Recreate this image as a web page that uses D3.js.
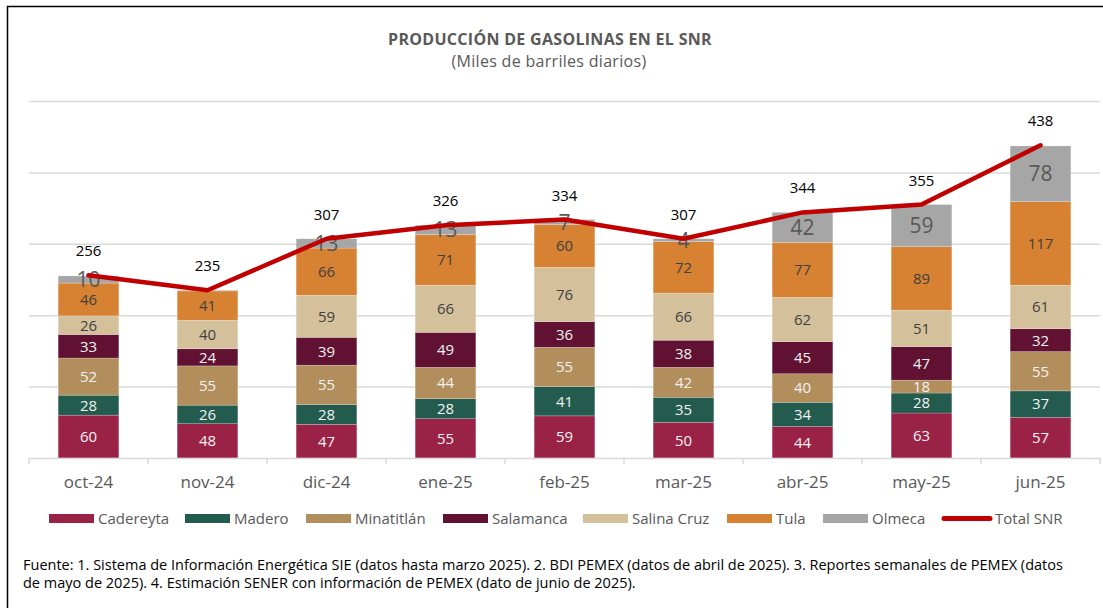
<!DOCTYPE html>
<meta charset="utf-8">
<style>
body { margin: 0; background: #fff; }
text { font-family: "Open Sans", sans-serif; }
.grid line { stroke: #d9d9d9; stroke-width: 1.5; }
.grid path { stroke-width: 0; }
</style>
<body>
<script src="https://cdn.jsdelivr.net/npm/d3@7"></script>
<script>

// ---- data ----
var months = ["oct-24","nov-24","dic-24","ene-25","feb-25","mar-25","abr-25","may-25","jun-25"];
var refinerias = ["Cadereyta","Madero","Minatitlán","Salamanca","Salina Cruz","Tula","Olmeca"];
var cadereyta  = [60, 48, 47, 55, 59, 50, 44, 63, 57];
var madero     = [28, 26, 28, 28, 41, 35, 34, 28, 37];
var minatitlan = [52, 55, 55, 44, 55, 42, 40, 18, 55];
var salamanca  = [33, 24, 39, 49, 36, 38, 45, 47, 32];
var salinaCruz = [26, 40, 59, 66, 76, 66, 62, 51, 61];
var tula       = [46, 41, 66, 71, 60, 72, 77, 89, 117];
var olmeca     = [10, 1, 13, 13, 7, 4, 42, 59, 78];
var totalSNR   = [256, 235, 307, 326, 334, 307, 344, 355, 438];
var yTicks     = [0, 100, 200, 300, 400, 500];

var series = [cadereyta, madero, minatitlan, salamanca, salinaCruz, tula, olmeca];
var colors = ["#9b2247","#235b4e","#b38e5d","#611232","#d4c19c","#d68232","#a6a6a6"];
var labelColors = ["#f2f2f2","#f2f2f2","#f2f2f2","#f2f2f2","#404040","#404040","#404040"];

// table for d3.stack
var table = months.map(function(m, i) {
  var row = {month: m};
  refinerias.forEach(function(r, k) { row[r] = series[k][i]; });
  return row;
});

// ---- setup ----
var W = 1103, H = 608;
var margin = {left: 29, right: 3, top: 101, bottom: 150};
var width = W - margin.left - margin.right,
    height = H - margin.top - margin.bottom;

var svg = d3.select("body").append("svg")
    .attr("width", W)
    .attr("height", H);

// outer frame
svg.append("rect")
    .attr("x", 7.5).attr("y", 6.5)
    .attr("width", 1110).attr("height", 620)
    .attr("fill", "none")
    .attr("stroke", "#000")
    .attr("stroke-width", 1.5);

// titles
svg.append("text")
    .attr("x", 550).attr("y", 45)
    .attr("text-anchor", "middle")
    .attr("font-size", 16)
    .attr("font-weight", "bold")
    .attr("letter-spacing", 0.3)
    .attr("fill", "#595959")
    .text("PRODUCCIÓN DE GASOLINAS  EN EL SNR");

svg.append("text")
    .attr("x", 549).attr("y", 67)
    .attr("text-anchor", "middle")
    .attr("font-size", 16)
    .attr("letter-spacing", 0.3)
    .attr("fill", "#595959")
    .text("(Miles de barriles diarios)");

var g = svg.append("g")
    .attr("transform", "translate(" + margin.left + "," + margin.top + ")");

var x = d3.scaleBand()
    .domain(months)
    .range([0, width])
    .paddingInner(0.49)
    .paddingOuter(0.245);

var y = d3.scaleLinear()
    .domain([0, 500])
    .range([height, 0]);

// gridlines
g.append("g")
    .attr("class", "grid")
    .call(d3.axisLeft(y).tickValues(yTicks.slice(1)).tickSize(-width).tickFormat(""));

// bars
var stack = d3.stack().keys(refinerias)(table);

var layer = g.selectAll(".layer")
    .data(stack)
  .enter().append("g")
    .attr("class", "layer")
    .attr("fill", function(d, i) { return colors[i]; });

layer.selectAll("rect")
    .data(function(d) { return d; })
  .enter().append("rect")
    .attr("x", function(d) { return x(d.data.month); })
    .attr("y", function(d) { return y(d[1]); })
    .attr("width", x.bandwidth())
    .attr("height", function(d) { return y(d[0]) - y(d[1]); })
    .attr("stroke", "#fff")
    .attr("stroke-opacity", 0.35)
    .attr("stroke-width", 0.6);

// segment labels
layer.each(function(s, k) {
  d3.select(this).selectAll("text")
      .data(s.filter(function(d) { return d[1] - d[0] > 1; }))
    .enter().append("text")
      .attr("x", function(d) { return x(d.data.month) + x.bandwidth() / 2; })
      .attr("y", function(d) { return y((d[0] + d[1]) / 2); })
      .attr("dy", "0.36em")
      .attr("text-anchor", "middle")
      .attr("font-size", k === 6 ? 21 : 15)
      .attr("fill", k === 6 ? "#595959" : labelColors[k])
      .text(function(d) { return d[1] - d[0]; });
});

// x axis
var xAxis = g.append("g")
    .attr("transform", "translate(0," + height + ")")
    .call(d3.axisBottom(x).tickSize(0).tickPadding(18));
xAxis.select(".domain").attr("stroke", "#d9d9d9").attr("stroke-width", 1.5);
xAxis.selectAll("text").attr("font-size", 17).attr("fill", "#595959")
    .attr("font-family", "'Open Sans', sans-serif");

// tick marks between categories
var step = x.step();
g.append("g").selectAll("line")
    .data(d3.range(months.length + 1))
  .enter().append("line")
    .attr("x1", function(i) { return i * step; })
    .attr("x2", function(i) { return i * step; })
    .attr("y1", height)
    .attr("y2", height + 6)
    .attr("stroke", "#d9d9d9")
    .attr("stroke-width", 1.5);

// total line
var line = d3.line()
    .x(function(d, i) { return x(months[i]) + x.bandwidth() / 2; })
    .y(function(d) { return y(d); });

g.append("path")
    .datum(totalSNR)
    .attr("fill", "none")
    .attr("stroke", "#c00000")
    .attr("stroke-width", 4.5)
    .attr("stroke-linejoin", "round")
    .attr("stroke-linecap", "round")
    .attr("d", line);

g.selectAll(".tot")
    .data(totalSNR)
  .enter().append("text")
    .attr("class", "tot")
    .attr("x", function(d, i) { return x(months[i]) + x.bandwidth() / 2; })
    .attr("y", function(d) { return y(d) - 19; })
    .attr("text-anchor", "middle")
    .attr("font-size", 15)
    .attr("fill", "#000")
    .text(function(d) { return d; });

// legend
var legendX = [49, 185, 306, 443, 583, 727, 823];
var legend = svg.append("g");
refinerias.forEach(function(r, k) {
  legend.append("rect")
      .attr("x", legendX[k]).attr("y", 514)
      .attr("width", 45).attr("height", 9)
      .attr("fill", colors[k]);
  legend.append("text")
      .attr("x", legendX[k] + 49).attr("y", 524)
      .attr("font-size", 15)
      .attr("fill", "#595959")
      .text(r);
});
legend.append("line")
    .attr("x1", 944).attr("x2", 990)
    .attr("y1", 518.5).attr("y2", 518.5)
    .attr("stroke", "#c00000")
    .attr("stroke-width", 5)
    .attr("stroke-linecap", "round");
legend.append("text")
    .attr("x", 995).attr("y", 524)
    .attr("font-size", 15)
    .attr("fill", "#595959")
    .text("Total SNR");

// footnote
var notes = [
  "Fuente: 1. Sistema de Información Energética SIE (datos hasta marzo 2025). 2. BDI PEMEX (datos de abril de 2025). 3. Reportes semanales de PEMEX (datos",
  "de mayo de 2025). 4. Estimación SENER con información de PEMEX (dato de junio de 2025)."
];
svg.selectAll(".note")
    .data(notes)
  .enter().append("text")
    .attr("class", "note")
    .attr("x", 23)
    .attr("y", function(d, i) { return 570 + i * 18; })
    .attr("font-size", 14.5)
    .attr("fill", "#000")
    .text(function(d) { return d; });

</script>
</body>
